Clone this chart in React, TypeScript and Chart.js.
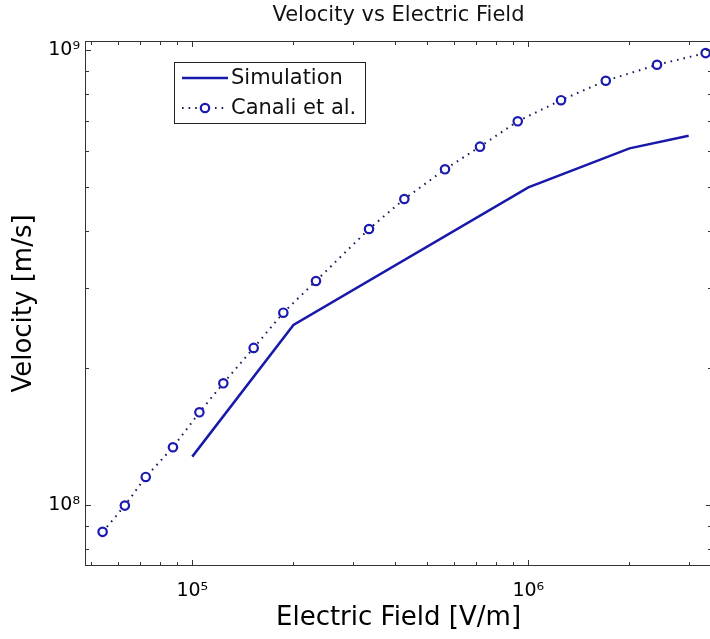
import React, { useEffect, useRef } from 'react';
import { Chart, registerables } from 'chart.js';

Chart.register(...registerables);

// ---- data ----
const simField = [1e5, 2e5, 1e6, 2e6, 3e6];
const simVelocity = [1.277e8, 2.486e8, 4.991e8, 6.081e8, 6.481e8];

const canaliField = [
  5.41e4, 6.3e4, 7.27e4, 8.76e4, 1.05e5, 1.237e5, 1.523e5, 1.866e5, 2.334e5,
  3.357e5, 4.276e5, 5.65e5, 7.18e5, 9.3e5, 1.251e6, 1.7e6, 2.415e6, 3.37e6,
];
const canaliVelocity = [
  8.725e7, 9.965e7, 1.152e8, 1.339e8, 1.598e8, 1.851e8, 2.214e8, 2.646e8, 3.107e8,
  4.042e8, 4.705e8, 5.469e8, 6.133e8, 6.973e8, 7.758e8, 8.561e8, 9.283e8, 9.849e8,
];

const seriesLabels = ['Simulation', 'Canali et al.'];

const xTickValues = [1e5, 1e6];
const xTickLabels = ['10\u2075', '10\u2076'];
const yTickValues = [1e8, 1e9];
const yTickLabels = ['10\u2078', '10\u2079'];

const xMin = 4.795e4;
const xMax = 3.52e6;
const yMin = 7.34e7;
const yMax = 1.047e9;

const FONT = '"DejaVu Sans", Verdana, sans-serif';
const SIM_COLOR = '#1818aa';
const CANALI_LINE = '#1a1a5a';
const CANALI_MARK = '#1a1ab0';

const framePlugin = {
  id: 'frameTicksLegend',
  afterDatasetsDraw(chart: any) {
    const { ctx, chartArea, scales } = chart;
    const { left, right, top, bottom } = chartArea;
    const xs = scales.x;
    const ys = scales.y;
    ctx.save();
    // frame
    ctx.strokeStyle = '#333';
    ctx.lineWidth = 1;
    ctx.strokeRect(left + 0.5, top + 0.5, right - left - 1, bottom - top - 1);

    const majorLen = 6;
    const minorLen = 4;
    // x ticks
    const ex0 = Math.floor(Math.log10(xs.min));
    const ex1 = Math.ceil(Math.log10(xs.max));
    ctx.beginPath();
    for (let e = ex0; e <= ex1; e++) {
      for (let m = 1; m < 10; m++) {
        const v = m * Math.pow(10, e);
        if (v < xs.min || v > xs.max) continue;
        const px = Math.round(xs.getPixelForValue(v)) + 0.5;
        const len = m === 1 ? majorLen : minorLen;
        ctx.moveTo(px, bottom);
        ctx.lineTo(px, bottom - len);
        ctx.moveTo(px, top);
        ctx.lineTo(px, top + len);
      }
    }
    // y ticks
    const ey0 = Math.floor(Math.log10(ys.min));
    const ey1 = Math.ceil(Math.log10(ys.max));
    for (let e = ey0; e <= ey1; e++) {
      for (let m = 1; m < 10; m++) {
        const v = m * Math.pow(10, e);
        if (v < ys.min || v > ys.max) continue;
        const py = Math.round(ys.getPixelForValue(v)) + 0.5;
        const len = m === 1 ? majorLen : minorLen;
        ctx.moveTo(left, py);
        ctx.lineTo(left + len, py);
        ctx.moveTo(right, py);
        ctx.lineTo(right - len, py);
      }
    }
    ctx.stroke();

    // legend
    const lx = left + 89;
    const ly = top + 21;
    const lw = 191;
    const lh = 61;
    ctx.fillStyle = '#fff';
    ctx.fillRect(lx, ly, lw, lh);
    ctx.strokeStyle = '#222';
    ctx.lineWidth = 1;
    ctx.strokeRect(lx + 0.5, ly + 0.5, lw, lh);

    const ds = chart.data.datasets;
    const row1 = ly + 16;
    const row2 = ly + 46;
    const l0 = lx + 8;
    const l1 = lx + 54;
    // row 1 line
    ctx.strokeStyle = ds[0].borderColor;
    ctx.lineWidth = ds[0].borderWidth;
    ctx.beginPath();
    ctx.moveTo(l0, row1);
    ctx.lineTo(l1, row1);
    ctx.stroke();
    // row 2 dotted + marker
    ctx.strokeStyle = ds[1].borderColor;
    ctx.lineWidth = ds[1].borderWidth;
    ctx.setLineDash(ds[1].borderDash);
    ctx.beginPath();
    ctx.moveTo(l0, row2);
    ctx.lineTo(l1, row2);
    ctx.stroke();
    ctx.setLineDash([]);
    ctx.beginPath();
    ctx.arc((l0 + l1) / 2, row2, ds[1].pointRadius, 0, Math.PI * 2);
    ctx.fillStyle = '#fff';
    ctx.fill();
    ctx.strokeStyle = ds[1].pointBorderColor;
    ctx.lineWidth = ds[1].pointBorderWidth;
    ctx.stroke();

    ctx.fillStyle = '#111';
    ctx.font = `21px ${FONT}`;
    ctx.textBaseline = 'middle';
    ctx.textAlign = 'left';
    ctx.fillText(ds[0].label, l1 + 3, row1 + 1);
    ctx.fillText(ds[1].label, l1 + 3, row2 + 1);
    ctx.restore();
  },
};

export default function App() {
  const canvasRef = useRef<HTMLCanvasElement | null>(null);

  useEffect(() => {
    const canvas = canvasRef.current;
    if (!canvas) return;
    const chart = new Chart(canvas, {
      type: 'line',
      data: {
        datasets: [
          {
            label: seriesLabels[0],
            data: simField.map((x, i) => ({ x, y: simVelocity[i] })),
            borderColor: SIM_COLOR,
            backgroundColor: SIM_COLOR,
            borderWidth: 2.5,
            pointRadius: 0,
            fill: false,
            tension: 0,
          },
          {
            label: seriesLabels[1],
            data: canaliField.map((x, i) => ({ x, y: canaliVelocity[i] })),
            borderColor: CANALI_LINE,
            backgroundColor: '#fff',
            borderWidth: 2,
            borderDash: [1.6, 5],
            pointRadius: 4.2,
            pointBorderWidth: 2.2,
            pointBorderColor: CANALI_MARK,
            pointBackgroundColor: '#fff',
            fill: false,
            tension: 0,
          },
        ],
      },
      options: {
        responsive: false,
        animation: false,
        devicePixelRatio: 1,
        layout: { padding: { left: 0, right: 8, top: 0, bottom: 0 } },
        plugins: {
          legend: { display: false },
          tooltip: { enabled: false },
          title: {
            display: true,
            fullSize: false,
            text: 'Velocity vs Electric Field',
            color: '#111',
            font: { family: FONT, size: 21, weight: 'normal' },
            padding: { top: 3, bottom: 12.8 },
          },
        },
        scales: {
          x: {
            type: 'logarithmic',
            min: xMin,
            max: xMax,
            grid: { display: false, drawTicks: false },
            border: { display: false },
            afterBuildTicks: (scale: any) => {
              scale.ticks = xTickValues.map((v) => ({ value: v }));
            },
            afterFit: (scale: any) => {
              scale.height = 73;
            },
            ticks: {
              autoSkip: false,
              maxRotation: 0,
              color: '#000',
              padding: 14,
              font: { family: FONT, size: 19 },
              callback: (v: any) => {
                const i = xTickValues.indexOf(Number(v));
                return i >= 0 ? xTickLabels[i] : '';
              },
            },
            title: {
              display: true,
              text: 'Electric Field [V/m]',
              color: '#000',
              font: { family: FONT, size: 26 },
              padding: 5,
            },
          },
          y: {
            type: 'logarithmic',
            min: yMin,
            max: yMax,
            grid: { display: false, drawTicks: false },
            border: { display: false },
            afterBuildTicks: (scale: any) => {
              scale.ticks = yTickValues.map((v) => ({ value: v }));
            },
            afterFit: (scale: any) => {
              scale.width = 85;
            },
            ticks: {
              autoSkip: false,
              color: '#000',
              padding: 5,
              font: { family: FONT, size: 19 },
              callback: (v: any) => {
                const i = yTickValues.indexOf(Number(v));
                return i >= 0 ? yTickLabels[i] : '';
              },
            },
            title: {
              display: true,
              text: 'Velocity [m/s]',
              color: '#000',
              font: { family: FONT, size: 26 },
              padding: 9,
            },
          },
        },
      },
      plugins: [framePlugin],
    } as any);
    return () => chart.destroy();
  }, []);

  return (
    <div
      style={{
        position: 'absolute',
        left: 0,
        top: 0,
        width: 710,
        height: 639,
        overflow: 'hidden',
        background: '#fff',
      }}
    >
      <canvas ref={canvasRef} width={720} height={639} />
    </div>
  );
}
